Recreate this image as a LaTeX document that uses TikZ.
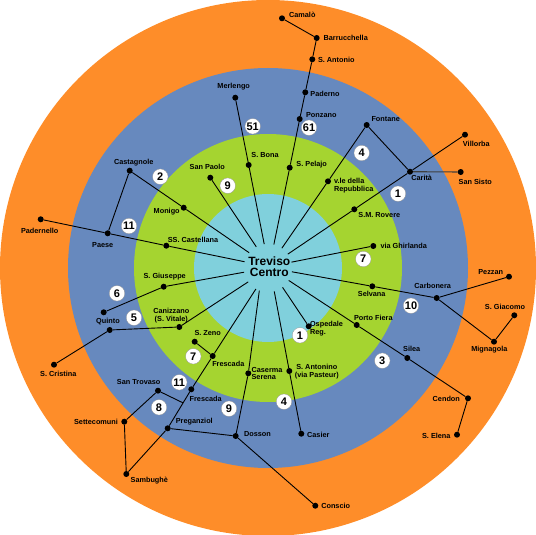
\documentclass[tikz,border=0pt]{standalone}
\usepackage{fontspec}
\setmainfont{Liberation Sans}
\definecolor{ringOrange}{RGB}{254,141,41}
\definecolor{ringBlue}{RGB}{103,137,190}
\definecolor{ringGreen}{RGB}{165,212,48}
\definecolor{ringCyan}{RGB}{128,208,220}
\tikzset{
  stop/.style={circle, fill=black, inner sep=0pt, minimum size=6pt},
  lbl/.style={font=\fontsize{7.3}{7.9}\selectfont\bfseries, inner sep=0pt, align=center},
  lblL/.style={lbl, align=left},
  badge/.style={circle, fill=white, draw=black!45, line width=0.25pt, inner sep=0pt, minimum size=15.5pt, font=\fontsize{11}{11}\selectfont\bfseries},
  route/.style={line width=0.9pt},
}

\begin{document}
\begin{tikzpicture}[x=1pt, y=-1pt]
    \useasboundingbox (0,0) rectangle (536,535);
    %--- Ringer ---
    \fill[ringOrange] (268,268) circle (268);
    \fill[ringBlue]   (268,268) circle (200);
    \fill[ringGreen]  (268,268) circle (134);
    \fill[ringCyan]   (268,268) circle (74);
    %--- Sentrum ---
    \node[circle, minimum size=48pt, inner sep=0pt] (centro) at (268,268){};
    \node[align=center, inner sep=0pt, font=\fontsize{12}{11.5}\selectfont\bfseries] (tCentro) at (269.3,266.7){Treviso\\Centro};
    %--- Stopp ---
    \node[stop] (merlengo) at (235.3,97.7){};
    \node[stop] (sBona) at (248.7,165){};
    \node[stop] (sanPaolo) at (210.3,177.7){};
    \node[stop] (castagnole) at (129.7,170.7){};
    \node[stop] (monigo) at (183.7,207.7){};
    \node[stop] (padernello) at (40.7,219.3){};
    \node[stop] (paese) at (107.7,233.3){};
    \node[stop] (castellana) at (166.3,245.7){};
    \node[stop] (camalo) at (282,18.3){};
    \node[stop] (barrucchella) at (316.7,38){};
    \node[stop] (sAntonio) at (312.3,59.3){};
    \node[stop] (paderno) at (305.3,92.3){};
    \node[stop] (ponzano) at (299.7,119){};
    \node[stop] (sPelajo) at (289.7,167.7){};
    \node[stop] (fontane) at (366.7,125){};
    \node[stop] (repubblica) at (328,181.3){};
    \node[stop] (carita) at (410,171.7){};
    \node[stop] (villorba) at (465,134.7){};
    \node[stop] (sanSisto) at (460.7,172){};
    \node[stop] (rovere) at (354.3,209.3){};
    \node[stop] (ghirlanda) at (373.3,246){};
    \node[stop] (giuseppe) at (163.7,286.7){};
    \node[stop] (quintoA) at (103.7,312.3){};
    \node[stop] (canizzano) at (179.3,327){};
    \node[stop] (quintoB) at (109.7,330){};
    \node[stop] (cristina) at (54,364.7){};
    \node[stop] (frescadaA) at (212.7,356){};
    \node[stop] (sZeno) at (194.7,341.7){};
    \node[stop] (frescadaB) at (191.3,389.3){};
    \node[stop] (preganziol) at (167.7,428.3){};
    \node[stop] (sambughe) at (126.3,474){};
    \node[stop] (trovaso) at (158,390.7){};
    \node[stop] (settecomuni) at (124.3,421.7){};
    \node[stop] (dosson) at (235.7,436){};
    \node[stop] (caserma) at (248.3,373.3){};
    \node[stop] (conscio) at (315.3,505.7){};
    \node[stop] (selvana) at (372.3,286.3){};
    \node[stop] (carbonera) at (436.7,298){};
    \node[stop] (pezzan) at (509,276.7){};
    \node[stop] (mignagola) at (494,341.7){};
    \node[stop] (giacomo) at (514.3,315.3){};
    \node[stop] (portoFiera) at (356.7,325){};
    \node[stop] (silea) at (407.3,358){};
    \node[stop] (cendon) at (468,398.3){};
    \node[stop] (elena) at (457,434.7){};
    \node[stop] (ospedale) at (308.7,326.3){};
    \node[stop] (casier) at (301.3,433.7){};
    \node[stop] (antonino) at (289.3,371){};
    \coordinate (trovasoEnd) at (182.7,402.7);
    %--- Linjer ---
    \draw[route] (centro.99) -- (sBona) -- (merlengo);
    \draw[route] (centro.119) -- (sanPaolo);
    \draw[route] (centro.141) -- (monigo) -- (castagnole) -- (paese);
    \draw[route] (centro.165) -- (castellana) -- (paese) -- (padernello);
    \draw[route] (centro.190) -- (giuseppe) -- (quintoA);
    \draw[route] (centro.215) -- (canizzano) -- (quintoB) -- (cristina);
    \draw[route] (centro.240) -- (frescadaA) -- (frescadaB) -- (preganziol) -- (sambughe) -- (settecomuni) -- (trovaso) -- (trovasoEnd);
    \draw[route] (sZeno) -- (frescadaA);
    \draw[route] (centro.249) -- (caserma) -- (dosson) -- (conscio);
    \draw[route] (preganziol) -- (dosson);
    \draw[route] (centro.285) -- (antonino) -- (casier);
    \draw[route] (centro.307) -- (ospedale);
    \draw[route] (centro.329) -- (portoFiera) -- (silea) -- (cendon) -- (elena);
    \draw[route] (centro.351) -- (selvana) -- (carbonera) -- (pezzan);
    \draw[route] (carbonera) -- (mignagola) -- (giacomo);
    \draw[route] (centro.14) -- (ghirlanda);
    \draw[route] (centro.35) -- (rovere) -- (carita) -- (villorba);
    \draw[route] (carita) -- (fontane) -- (repubblica) -- (centro.55);
    \draw[line width=1.1pt, black!75] (carita) -- (sanSisto);
    \draw[route] (centro.76) -- (sPelajo) -- (ponzano) -- (paderno) -- (sAntonio) -- (barrucchella) -- (camalo);
    %--- Navn ---
    \node[lbl] (tMerlengo) at (233.7,87){Merlengo};
    \node[lbl] (tBona) at (265,155){S. Bona};
    \node[lbl] (tPaolo) at (207.3,167){San Paolo};
    \node[lbl] (tCastagnole) at (133.7,162.3){Castagnole};
    \node[lbl] (tMonigo) at (166.7,211.3){Monigo};
    \node[lbl] (tPadernello) at (39.7,231.3){Padernello};
    \node[lbl] (tPaese) at (102.7,245){Paese};
    \node[lbl] (tCastellana) at (193,240){SS. Castellana};
    \node[lbl] (tCamalo) at (302.3,15){Camalò};
    \node[lbl] (tBarrucchella) at (345.7,38.3){Barrucchella};
    \node[lbl] (tAntonio) at (336.3,60.3){S. Antonio};
    \node[lbl] (tPaderno) at (325,93.7){Paderno};
    \node[lbl] (tPonzano) at (321.3,114.7){Ponzano};
    \node[lbl] (tPelajo) at (311.7,164.3){S. Pelajo};
    \node[lbl] (tFontane) at (385.7,119.3){Fontane};
    \node[lblL] (tRepubblica) at (353.7,185.3){v.le della\\Repubblica};
    \node[lbl] (tCarita) at (421.7,178.3){Carità};
    \node[lbl] (tVillorba) at (476.3,144.3){Villorba};
    \node[lbl] (tSisto) at (475.3,182){San Sisto};
    \node[lbl] (tRovere) at (379.3,215){S.M. Rovere};
    \node[lbl] (tGhirlanda) at (403.7,246){via Ghirlanda};
    \node[lbl] (tGiuseppe) at (164.7,277){S. Giuseppe};
    \node[lbl] (tQuinto) at (108,321.3){Quinto};
    \node[lbl] (tCanizzano) at (171.3,315.3){Canizzano\\(S. Vitale)};
    \node[lbl] (tCristina) at (58.3,374.3){S. Cristina};
    \node[lbl] (tZeno) at (207.7,332.7){S. Zeno};
    \node[lbl] (tFrescadaA) at (228.3,363.7){Frescada};
    \node[lbl] (tTrovaso) at (138.7,382.3){San Trovaso};
    \node[lbl] (tFrescadaB) at (205.7,398.7){Frescada};
    \node[lbl] (tSettecomuni) at (96,422){Settecomuni};
    \node[lbl] (tPreganziol) at (194.3,422){Preganziol};
    \node[lbl] (tDosson) at (257.5,433.7){Dosson};
    \node[lbl] (tSambughe) at (149.3,480.3){Sambughè};
    \node[lblL] (tCaserma) at (267,373.5){Caserma\\Serena};
    \node[lbl] (tPezzan) at (490.7,271.7){Pezzan};
    \node[lbl] (tCarbonera) at (432.7,286.3){Carbonera};
    \node[lbl] (tSelvana) at (371.7,294.3){Selvana};
    \node[lbl] (tGiacomo) at (505,307){S. Giacomo};
    \node[lbl] (tMignagola) at (489.3,349.3){Mignagola};
    \node[lbl] (tFiera) at (373.3,318){Porto Fiera};
    \node[lbl] (tSilea) at (411.7,349){Silea};
    \node[lbl] (tCendon) at (446.3,398.7){Cendon};
    \node[lbl] (tElena) at (436.3,435.7){S. Elena};
    \node[lblL] (tOspedale) at (326.5,328.7){Ospedale\\Reg.};
    \node[lbl] (tAntonino) at (316.8,371.3){S. Antonino\\(via Pasteur)};
    \node[lbl] (tCasier) at (318.3,434.7){Casier};
    \node[lbl] (tConscio) at (335.7,506){Conscio};
    %--- Linjenummer ---
    \node[badge] (n51) at (252.7,126.3){51};
    \node[badge] (n2) at (160.3,176.7){2};
    \node[badge] (n9a) at (227.7,185.7){9};
    \node[badge] (n11a) at (129,226){11};
    \node[badge] (n61) at (309,127.7){61};
    \node[badge] (n4a) at (361.7,153){4};
    \node[badge] (n1a) at (398,193.7){1};
    \node[badge] (n7a) at (363.3,259){7};
    \node[badge] (n6) at (117,293.3){6};
    \node[badge] (n5) at (134,317.7){5};
    \node[badge] (n7b) at (193.3,356.3){7};
    \node[badge] (n11b) at (179.3,382.3){11};
    \node[badge] (n8) at (159,407.3){8};
    \node[badge] (n9b) at (229,408.7){9};
    \node[badge] (n10) at (411,305.7){10};
    \node[badge] (n3) at (382.3,360.7){3};
    \node[badge] (n1b) at (300,335.3){1};
    \node[badge] (n4b) at (284,401.7){4};
\end{tikzpicture}
\end{document}
